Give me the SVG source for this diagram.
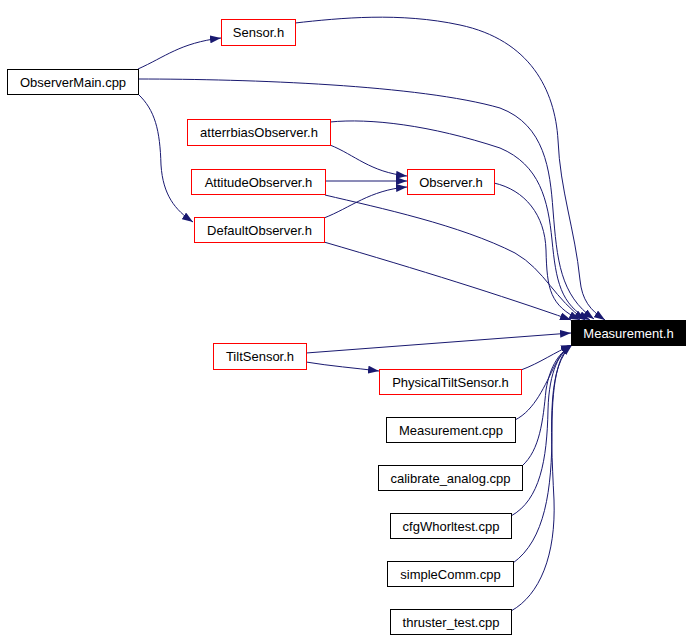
<svg xmlns="http://www.w3.org/2000/svg" width="692" height="640" viewBox="0 0 692 640">
<defs>
<marker id="ah" markerUnits="userSpaceOnUse" viewBox="0 0 11 8" refX="11" refY="4" markerWidth="11" markerHeight="8" orient="auto">
<path d="M0,0 L11,4 L0,8 z" fill="#191970"/>
</marker>
</defs>
<style>
.n rect{fill:#fff;stroke:#000;stroke-width:1}
.r rect{stroke:#ff0000}
.n text{font-family:"Liberation Sans",Arial,sans-serif;font-size:13px;text-anchor:middle;fill:#000}
#measurement_h rect{fill:#000;stroke:#000}
#measurement_h text{fill:#fff}
.e path{fill:none;stroke:#191970;stroke-width:1;marker-end:url(#ah)}
</style>
<rect width="692" height="640" fill="#fff"/>
<g id="edges" class="e">
<path d="M138,69 C165,57 180,43 221,38"/>
<path d="M138,94 C155,110 160,130 161,165 C163,195 175,210 193,222"/>
<path d="M138,79 C250,79 420,85 500,108 C545,125 550,170 553,210 C557,260 560,295 594,319"/>
<path d="M295,23 C340,18 400,12 460,25 C530,40 555,90 558,140 C560,190 575,230 580,280 C582,300 590,310 605,320"/>
<path d="M330,122 C370,118 430,125 500,148 C540,165 548,200 552,240 C556,280 560,305 590,320"/>
<path d="M330,145 C355,155 370,172 407,176"/>
<path d="M325,181 L407,181"/>
<path d="M325,195 C380,208 460,225 515,253 C545,270 555,300 585,320"/>
<path d="M324,218 C350,208 370,190 407,187"/>
<path d="M324,242 C420,270 500,295 571,320"/>
<path d="M494,183 C525,190 545,215 546,250 C547,290 550,305 580,320"/>
<path d="M306,353 L571,333"/>
<path d="M306,362 C330,366 355,368 379,371"/>
<path d="M521,370 C540,363 555,352 572,345"/>
<path d="M515,420 C535,410 545,385 555,365 C560,355 565,349 572,345"/>
<path d="M522,466 C540,450 543,420 546,390 C550,365 560,352 572,345"/>
<path d="M511,516 C540,500 547,460 548,410 C549,370 560,352 572,345"/>
<path d="M513,563 C545,540 552,490 552,430 C552,375 560,352 572,345"/>
<path d="M511,611 C540,595 556,555 554,500 C550,420 548,365 572,345"/>
</g>
<g id="observermain_cpp" class="n"><rect x="7.5" y="69.5" width="131" height="25"/><text x="73" y="86.5">ObserverMain.cpp</text></g>
<g id="sensor_h" class="n r"><rect x="221.5" y="19.5" width="74" height="26"/><text x="258.5" y="37">Sensor.h</text></g>
<g id="atterrbiasobserver_h" class="n r"><rect x="187.5" y="119.5" width="143" height="26"/><text x="259" y="137">atterrbiasObserver.h</text></g>
<g id="attitudeobserver_h" class="n r"><rect x="191.5" y="169.5" width="134" height="25"/><text x="258.5" y="186.5">AttitudeObserver.h</text></g>
<g id="defaultobserver_h" class="n r"><rect x="194.5" y="217.5" width="130" height="25"/><text x="259.5" y="234.5">DefaultObserver.h</text></g>
<g id="observer_h" class="n r"><rect x="407.5" y="169.5" width="87" height="25"/><text x="451" y="186.5">Observer.h</text></g>
<g id="measurement_h" class="n"><rect x="571.5" y="320.5" width="114" height="25"/><text x="628.5" y="337.5">Measurement.h</text></g>
<g id="tiltsensor_h" class="n r"><rect x="213.5" y="343.5" width="93" height="26"/><text x="260" y="361">TiltSensor.h</text></g>
<g id="physicaltiltsensor_h" class="n r"><rect x="379.5" y="369.5" width="142" height="25"/><text x="450.5" y="386.5">PhysicalTiltSensor.h</text></g>
<g id="measurement_cpp" class="n"><rect x="386.5" y="417.5" width="129" height="25"/><text x="451" y="434.5">Measurement.cpp</text></g>
<g id="calibrate_analog_cpp" class="n"><rect x="378.5" y="465.5" width="144" height="25"/><text x="450.5" y="482.5">calibrate_analog.cpp</text></g>
<g id="cfgwhorltest_cpp" class="n"><rect x="390.5" y="513.5" width="121" height="25"/><text x="451" y="530.5">cfgWhorltest.cpp</text></g>
<g id="simplecomm_cpp" class="n"><rect x="387.5" y="561.5" width="126" height="25"/><text x="450.5" y="578.5">simpleComm.cpp</text></g>
<g id="thruster_test_cpp" class="n"><rect x="390.5" y="609.5" width="121" height="25"/><text x="451" y="626.5">thruster_test.cpp</text></g>
</svg>
